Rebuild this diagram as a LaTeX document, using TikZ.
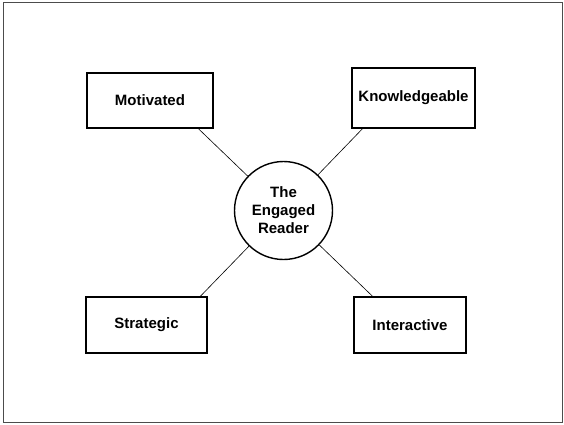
\documentclass[tikz,border=0pt]{standalone}
\usepackage{fontspec}
\setmainfont{Liberation Sans}
\usetikzlibrary{calc}

\begin{document}
\begin{tikzpicture}[x=1pt,y=-1pt,
    trait/.style={draw,line width=1.4pt,inner sep=0pt,font=\bfseries\fontsize{15}{18}\selectfont},
    hub/.style={circle,draw,line width=1.4pt,minimum size=98pt,inner sep=0pt,align=center,font=\bfseries\fontsize{15}{18}\selectfont}]
                \useasboundingbox (0,0) rectangle (564,424);
                \draw[black!70,line width=1pt] (3,2) rectangle (562,422);

                \node[hub] (reader) at (283.5,210.5) {The\\Engaged\\Reader};

                \node[trait,minimum width=126pt,minimum height=55pt] (mot) at (150,100.5) {Motivated};
                \node[trait,minimum width=123pt,minimum height=60pt] (know) at (413.5,98) {Knowledgeable};
                \node[trait,minimum width=121pt,minimum height=56pt] (strat) at (146.5,325) {Strategic};
                \node[trait,minimum width=112pt,minimum height=56pt] (inter) at (410,325) {Interactive};

                \draw[line width=0.6pt] ($(mot.south west)!0.88!(mot.south east)$) -- (reader);
                \draw[line width=0.6pt] ($(know.south west)!0.09!(know.south east)$) -- (reader);
                \draw[line width=0.6pt] ($(strat.north west)!0.94!(strat.north east)$) -- (reader);
                \draw[line width=0.6pt] ($(inter.north west)!0.17!(inter.north east)$) -- (reader);
            \end{tikzpicture}
\end{document}
